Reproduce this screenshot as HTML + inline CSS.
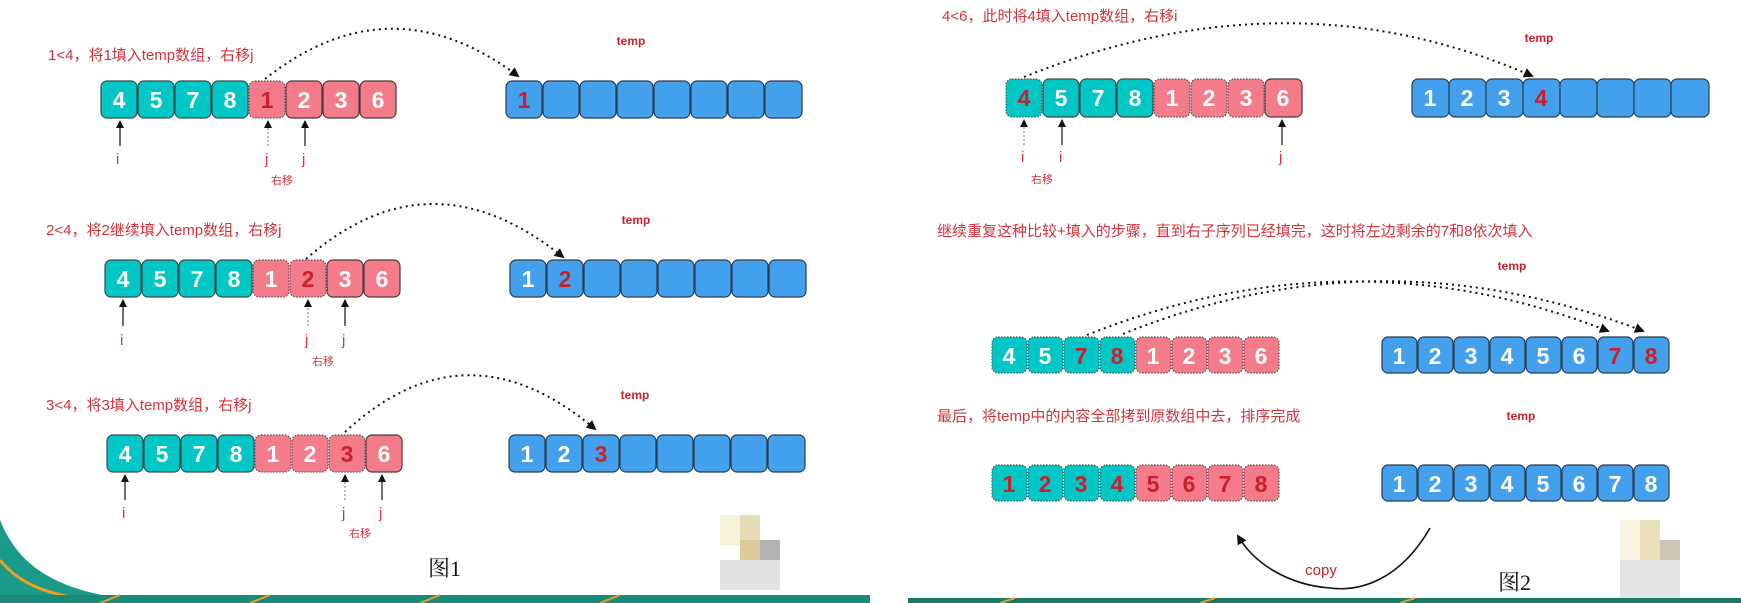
<!DOCTYPE html>
<html><head><meta charset="utf-8"><style>
html,body{margin:0;padding:0;background:#fff;width:1741px;height:603px;overflow:hidden}
svg{display:block}
.t{font-family:"Liberation Sans",sans-serif;font-weight:bold;font-size:23px;text-anchor:middle}
.w{fill:#fff}.r{fill:#c8202c}
.lb{font-family:"Liberation Sans","Noto Sans CJK SC",sans-serif;font-size:15px;fill:#d0343c}
.tp{font-family:"Liberation Sans",sans-serif;font-size:12px;font-weight:bold;fill:#c8202c;text-anchor:middle}
.c{fill:#00c6c6;stroke:#3a4a4a;stroke-width:1.2}
.p{fill:#f47b8a;stroke:#4a3a3a;stroke-width:1.2}
.b{fill:#42a0ec;stroke:#2c3c50;stroke-width:1.2}
.d{stroke-dasharray:1.5 1.5;stroke:#555}
.arc{fill:none;stroke:#111;stroke-width:2;stroke-dasharray:2 4}
.ar{stroke:#111;stroke-width:1.2}
.ard{stroke:#777;stroke-width:1;stroke-dasharray:2 2}
</style></head><body>
<svg width="1741" height="603" xmlns="http://www.w3.org/2000/svg">
<defs>
<marker id="m" markerWidth="10" markerHeight="10" refX="8" refY="5" orient="auto" markerUnits="userSpaceOnUse"><path d="M0,0 L10,5 L0,10 z" fill="#111"/></marker>
<marker id="ms" markerWidth="8" markerHeight="8" refX="7" refY="4" orient="auto" markerUnits="userSpaceOnUse"><path d="M0,0 L8,4 L0,8 z" fill="#111"/></marker>
</defs>

<!-- bottom decorations -->
<path d="M0,520 C20,570 60,590 130,600 L0,603 z" fill="#1a9a88"/>
<path d="M0,560 C20,585 50,595 90,600" stroke="#f0a020" stroke-width="3" fill="none"/>
<rect x="0" y="595" width="870" height="8" fill="#1a8a78"/>
<rect x="908" y="598" width="833" height="5" fill="#1a7a68"/>
<g stroke="#f0a020" stroke-width="2"><line x1="100" y1="603" x2="120" y2="595"/><line x1="250" y1="603" x2="270" y2="595"/><line x1="420" y1="603" x2="440" y2="595"/><line x1="600" y1="603" x2="620" y2="595"/><line x1="1000" y1="603" x2="1015" y2="598"/><line x1="1200" y1="603" x2="1215" y2="598"/><line x1="1400" y1="603" x2="1415" y2="598"/></g>
<g opacity="0.8"><rect x="720" y="515" width="20" height="30" fill="#f5efd0"/><rect x="740" y="515" width="20" height="30" fill="#e0d4a8"/><rect x="740" y="540" width="20" height="20" fill="#d4c080"/><rect x="760" y="540" width="20" height="20" fill="#a0a0a0"/><rect x="720" y="560" width="60" height="30" fill="#dcdcdc"/></g>
<g opacity="0.8"><rect x="1620" y="520" width="20" height="40" fill="#f8f2dc"/><rect x="1640" y="520" width="20" height="40" fill="#e4d8a8"/><rect x="1660" y="540" width="20" height="20" fill="#c0b8a0"/><rect x="1620" y="560" width="60" height="38" fill="#dedede"/></g>

<!-- Row 1 -->
<text class="lb" x="48" y="60">1&lt;4，将1填入temp数组，右移j</text>
<text class="tp" x="631" y="45">temp</text>
<path class="arc" d="M265,79 Q390,-20 518,76" marker-end="url(#m)"/>
<g>
<rect class="c" x="101" y="81" width="36" height="37" rx="6"/><text class="t w" x="119" y="108">4</text>
<rect class="c" x="138" y="81" width="36" height="37" rx="6"/><text class="t w" x="156" y="108">5</text>
<rect class="c" x="175" y="81" width="36" height="37" rx="6"/><text class="t w" x="193" y="108">7</text>
<rect class="c" x="212" y="81" width="36" height="37" rx="6"/><text class="t w" x="230" y="108">8</text>
<rect class="p d" x="249" y="81" width="36" height="37" rx="6"/><text class="t r" x="267" y="108">1</text>
<rect class="p" x="286" y="81" width="36" height="37" rx="6"/><text class="t w" x="304" y="108">2</text>
<rect class="p" x="323" y="81" width="36" height="37" rx="6"/><text class="t w" x="341" y="108">3</text>
<rect class="p" x="360" y="81" width="36" height="37" rx="6"/><text class="t w" x="378" y="108">6</text>
</g>
<g>
<rect class="b" x="506" y="81" width="36" height="37" rx="6"/><text class="t r" x="524" y="108">1</text>
<rect class="b" x="543" y="81" width="36" height="37" rx="6"/><rect class="b" x="580" y="81" width="36" height="37" rx="6"/><rect class="b" x="617" y="81" width="36" height="37" rx="6"/><rect class="b" x="654" y="81" width="36" height="37" rx="6"/><rect class="b" x="691" y="81" width="36" height="37" rx="6"/><rect class="b" x="728" y="81" width="36" height="37" rx="6"/><rect class="b" x="765" y="81" width="37" height="37" rx="6"/>
</g>
<line class="ar" x1="120" y1="146" x2="120" y2="121" marker-end="url(#ms)"/>
<line class="ard" x1="268" y1="146" x2="268" y2="121" marker-end="url(#ms)"/>
<line class="ar" x1="305" y1="146" x2="305" y2="121" marker-end="url(#ms)"/>
<text class="lb" x="116" y="164">i</text><text class="lb" x="265" y="164">j</text><text class="lb" x="302" y="164">j</text>
<text class="lb" x="271" y="184" style="font-size:11px">右移</text>

<!-- Row 2 -->
<text class="lb" x="46" y="235">2&lt;4，将2继续填入temp数组，右移j</text>
<text class="tp" x="636" y="224">temp</text>
<path class="arc" d="M306,259 Q430,150 563,257" marker-end="url(#m)"/>
<g>
<rect class="c" x="105" y="260" width="36" height="37" rx="6"/><text class="t w" x="123" y="287">4</text>
<rect class="c" x="142" y="260" width="36" height="37" rx="6"/><text class="t w" x="160" y="287">5</text>
<rect class="c" x="179" y="260" width="36" height="37" rx="6"/><text class="t w" x="197" y="287">7</text>
<rect class="c" x="216" y="260" width="36" height="37" rx="6"/><text class="t w" x="234" y="287">8</text>
<rect class="p d" x="253" y="260" width="36" height="37" rx="6"/><text class="t w" x="271" y="287">1</text>
<rect class="p d" x="290" y="260" width="36" height="37" rx="6"/><text class="t r" x="308" y="287">2</text>
<rect class="p" x="327" y="260" width="36" height="37" rx="6"/><text class="t w" x="345" y="287">3</text>
<rect class="p" x="364" y="260" width="36" height="37" rx="6"/><text class="t w" x="382" y="287">6</text>
</g>
<g>
<rect class="b" x="510" y="260" width="36" height="37" rx="6"/><text class="t w" x="528" y="287">1</text>
<rect class="b" x="547" y="260" width="36" height="37" rx="6"/><text class="t r" x="565" y="287">2</text>
<rect class="b" x="584" y="260" width="36" height="37" rx="6"/><rect class="b" x="621" y="260" width="36" height="37" rx="6"/><rect class="b" x="658" y="260" width="36" height="37" rx="6"/><rect class="b" x="695" y="260" width="36" height="37" rx="6"/><rect class="b" x="732" y="260" width="36" height="37" rx="6"/><rect class="b" x="769" y="260" width="37" height="37" rx="6"/>
</g>
<line class="ar" x1="123" y1="326" x2="123" y2="300" marker-end="url(#ms)"/>
<line class="ard" x1="308" y1="326" x2="308" y2="300" marker-end="url(#ms)"/>
<line class="ar" x1="345" y1="326" x2="345" y2="300" marker-end="url(#ms)"/>
<text class="lb" x="120" y="345">i</text><text class="lb" x="305" y="345">j</text><text class="lb" x="342" y="345">j</text>
<text class="lb" x="312" y="365" style="font-size:11px">右移</text>

<!-- Row 3 -->
<text class="lb" x="46" y="410">3&lt;4，将3填入temp数组，右移j</text>
<text class="tp" x="635" y="399">temp</text>
<path class="arc" d="M345,432 Q466,320 595,429" marker-end="url(#m)"/>
<g>
<rect class="c" x="107" y="435" width="36" height="37" rx="6"/><text class="t w" x="125" y="462">4</text>
<rect class="c" x="144" y="435" width="36" height="37" rx="6"/><text class="t w" x="162" y="462">5</text>
<rect class="c" x="181" y="435" width="36" height="37" rx="6"/><text class="t w" x="199" y="462">7</text>
<rect class="c" x="218" y="435" width="36" height="37" rx="6"/><text class="t w" x="236" y="462">8</text>
<rect class="p d" x="255" y="435" width="36" height="37" rx="6"/><text class="t w" x="273" y="462">1</text>
<rect class="p d" x="292" y="435" width="36" height="37" rx="6"/><text class="t w" x="310" y="462">2</text>
<rect class="p d" x="329" y="435" width="36" height="37" rx="6"/><text class="t r" x="347" y="462">3</text>
<rect class="p" x="366" y="435" width="36" height="37" rx="6"/><text class="t w" x="384" y="462">6</text>
</g>
<g>
<rect class="b" x="509" y="435" width="36" height="37" rx="6"/><text class="t w" x="527" y="462">1</text>
<rect class="b" x="546" y="435" width="36" height="37" rx="6"/><text class="t w" x="564" y="462">2</text>
<rect class="b" x="583" y="435" width="36" height="37" rx="6"/><text class="t r" x="601" y="462">3</text>
<rect class="b" x="620" y="435" width="36" height="37" rx="6"/><rect class="b" x="657" y="435" width="36" height="37" rx="6"/><rect class="b" x="694" y="435" width="36" height="37" rx="6"/><rect class="b" x="731" y="435" width="36" height="37" rx="6"/><rect class="b" x="768" y="435" width="37" height="37" rx="6"/>
</g>
<line class="ar" x1="125" y1="500" x2="125" y2="475" marker-end="url(#ms)"/>
<line class="ard" x1="345" y1="500" x2="345" y2="475" marker-end="url(#ms)"/>
<line class="ar" x1="382" y1="500" x2="382" y2="475" marker-end="url(#ms)"/>
<text class="lb" x="122" y="518">i</text><text class="lb" x="342" y="518">j</text><text class="lb" x="379" y="518">j</text>
<text class="lb" x="349" y="537" style="font-size:11px">右移</text>
<text x="428" y="576" style="font-family:'Liberation Serif','Noto Serif CJK SC',serif;font-size:22px;fill:#111">图1</text>

<!-- Right row 1 -->
<text class="lb" x="942" y="21">4&lt;6，此时将4填入temp数组，右移i</text>
<text class="tp" x="1539" y="42">temp</text>
<path class="arc" d="M1024,77 Q1290,-30 1532,76" marker-end="url(#m)"/>
<g>
<rect class="c d" x="1006" y="79" width="36" height="38" rx="6"/><text class="t r" x="1024" y="106">4</text>
<rect class="c" x="1043" y="79" width="36" height="38" rx="6"/><text class="t w" x="1061" y="106">5</text>
<rect class="c" x="1080" y="79" width="36" height="38" rx="6"/><text class="t w" x="1098" y="106">7</text>
<rect class="c" x="1117" y="79" width="36" height="38" rx="6"/><text class="t w" x="1135" y="106">8</text>
<rect class="p d" x="1154" y="79" width="36" height="38" rx="6"/><text class="t w" x="1172" y="106">1</text>
<rect class="p d" x="1191" y="79" width="36" height="38" rx="6"/><text class="t w" x="1209" y="106">2</text>
<rect class="p d" x="1228" y="79" width="36" height="38" rx="6"/><text class="t w" x="1246" y="106">3</text>
<rect class="p" x="1265" y="79" width="37" height="38" rx="6"/><text class="t w" x="1283" y="106">6</text>
</g>
<g>
<rect class="b" x="1412" y="79" width="37" height="38" rx="6"/><text class="t w" x="1430" y="106">1</text>
<rect class="b" x="1449" y="79" width="37" height="38" rx="6"/><text class="t w" x="1467" y="106">2</text>
<rect class="b" x="1486" y="79" width="37" height="38" rx="6"/><text class="t w" x="1504" y="106">3</text>
<rect class="b" x="1523" y="79" width="37" height="38" rx="6"/><text class="t r" x="1541" y="106">4</text>
<rect class="b" x="1560" y="79" width="37" height="38" rx="6"/><rect class="b" x="1597" y="79" width="37" height="38" rx="6"/><rect class="b" x="1634" y="79" width="37" height="38" rx="6"/><rect class="b" x="1671" y="79" width="38" height="38" rx="6"/>
</g>
<line class="ard" x1="1024" y1="145" x2="1024" y2="120" marker-end="url(#ms)"/>
<line class="ar" x1="1062" y1="145" x2="1062" y2="120" marker-end="url(#ms)"/>
<line class="ar" x1="1282" y1="145" x2="1282" y2="120" marker-end="url(#ms)"/>
<text class="lb" x="1021" y="162">i</text><text class="lb" x="1059" y="162">i</text><text class="lb" x="1279" y="162">j</text>
<text class="lb" x="1031" y="183" style="font-size:11px">右移</text>

<text class="lb" x="937" y="236">继续重复这种比较+填入的步骤，直到右子序列已经填完，这时将左边剩余的7和8依次填入</text>
<text class="tp" x="1512" y="270">temp</text>
<path class="arc" d="M1087,335 Q1350,230 1608,331" marker-end="url(#m)"/>
<path class="arc" d="M1123,334 Q1380,230 1643,331" marker-end="url(#m)"/>

<!-- Right row 2 -->
<g>
<rect class="c d" x="992" y="337" width="35" height="36" rx="6"/><text class="t w" x="1009" y="364">4</text>
<rect class="c d" x="1028" y="337" width="35" height="36" rx="6"/><text class="t w" x="1045" y="364">5</text>
<rect class="c d" x="1064" y="337" width="35" height="36" rx="6"/><text class="t r" x="1081" y="364">7</text>
<rect class="c d" x="1100" y="337" width="35" height="36" rx="6"/><text class="t r" x="1117" y="364">8</text>
<rect class="p d" x="1136" y="337" width="35" height="36" rx="6"/><text class="t w" x="1153" y="364">1</text>
<rect class="p d" x="1172" y="337" width="35" height="36" rx="6"/><text class="t w" x="1189" y="364">2</text>
<rect class="p d" x="1208" y="337" width="35" height="36" rx="6"/><text class="t w" x="1225" y="364">3</text>
<rect class="p d" x="1244" y="337" width="35" height="36" rx="6"/><text class="t w" x="1261" y="364">6</text>
</g>
<g>
<rect class="b" x="1382" y="337" width="35" height="36" rx="6"/><text class="t w" x="1399" y="364">1</text>
<rect class="b" x="1418" y="337" width="35" height="36" rx="6"/><text class="t w" x="1435" y="364">2</text>
<rect class="b" x="1454" y="337" width="35" height="36" rx="6"/><text class="t w" x="1471" y="364">3</text>
<rect class="b" x="1490" y="337" width="35" height="36" rx="6"/><text class="t w" x="1507" y="364">4</text>
<rect class="b" x="1526" y="337" width="35" height="36" rx="6"/><text class="t w" x="1543" y="364">5</text>
<rect class="b" x="1562" y="337" width="35" height="36" rx="6"/><text class="t w" x="1579" y="364">6</text>
<rect class="b" x="1598" y="337" width="35" height="36" rx="6"/><text class="t r" x="1615" y="364">7</text>
<rect class="b" x="1634" y="337" width="35" height="36" rx="6"/><text class="t r" x="1651" y="364">8</text>
</g>

<text class="lb" x="937" y="421">最后，将temp中的内容全部拷到原数组中去，排序完成</text>
<text class="tp" x="1521" y="420">temp</text>

<!-- Right row 3 -->
<g>
<rect class="c d" x="992" y="465" width="35" height="36" rx="6"/><text class="t r" x="1009" y="492">1</text>
<rect class="c d" x="1028" y="465" width="35" height="36" rx="6"/><text class="t r" x="1045" y="492">2</text>
<rect class="c d" x="1064" y="465" width="35" height="36" rx="6"/><text class="t r" x="1081" y="492">3</text>
<rect class="c d" x="1100" y="465" width="35" height="36" rx="6"/><text class="t r" x="1117" y="492">4</text>
<rect class="p d" x="1136" y="465" width="35" height="36" rx="6"/><text class="t r" x="1153" y="492">5</text>
<rect class="p d" x="1172" y="465" width="35" height="36" rx="6"/><text class="t r" x="1189" y="492">6</text>
<rect class="p d" x="1208" y="465" width="35" height="36" rx="6"/><text class="t r" x="1225" y="492">7</text>
<rect class="p d" x="1244" y="465" width="35" height="36" rx="6"/><text class="t r" x="1261" y="492">8</text>
</g>
<g>
<rect class="b" x="1382" y="465" width="35" height="36" rx="6"/><text class="t w" x="1399" y="492">1</text>
<rect class="b" x="1418" y="465" width="35" height="36" rx="6"/><text class="t w" x="1435" y="492">2</text>
<rect class="b" x="1454" y="465" width="35" height="36" rx="6"/><text class="t w" x="1471" y="492">3</text>
<rect class="b" x="1490" y="465" width="35" height="36" rx="6"/><text class="t w" x="1507" y="492">4</text>
<rect class="b" x="1526" y="465" width="35" height="36" rx="6"/><text class="t w" x="1543" y="492">5</text>
<rect class="b" x="1562" y="465" width="35" height="36" rx="6"/><text class="t w" x="1579" y="492">6</text>
<rect class="b" x="1598" y="465" width="35" height="36" rx="6"/><text class="t w" x="1615" y="492">7</text>
<rect class="b" x="1634" y="465" width="35" height="36" rx="6"/><text class="t w" x="1651" y="492">8</text>
</g>
<path d="M1430,528 C1400,580 1360,592 1330,588 C1290,585 1255,565 1238,536" fill="none" stroke="#111" stroke-width="1.6" marker-end="url(#m)"/>
<text x="1321" y="575" style="font-family:'Liberation Sans',sans-serif;font-size:15px;fill:#c8202c;text-anchor:middle">copy</text>
<text x="1498" y="590" style="font-family:'Liberation Serif','Noto Serif CJK SC',serif;font-size:22px;fill:#111">图2</text>
</svg>
</body></html>
